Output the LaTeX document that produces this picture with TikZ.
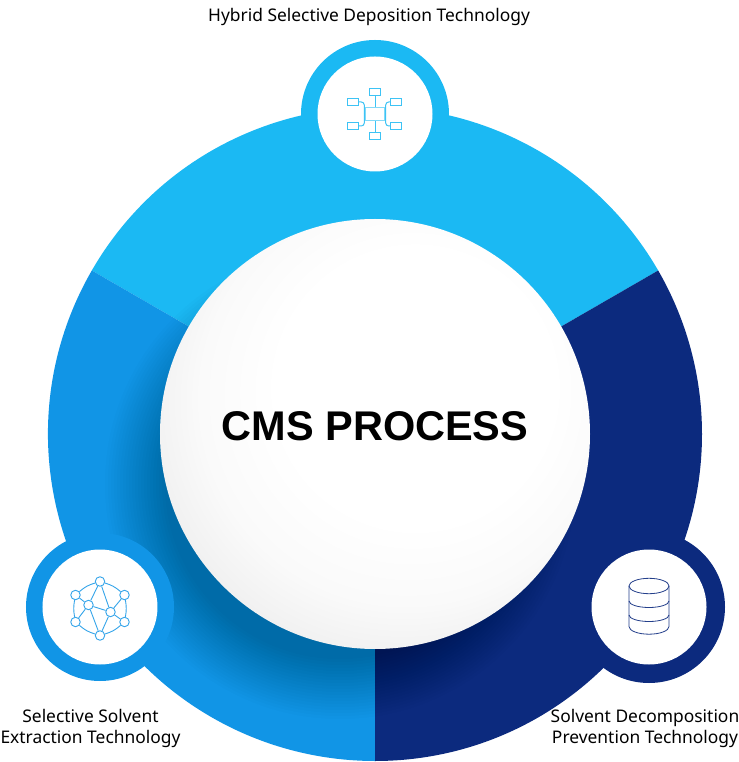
\documentclass[tikz,border=0pt]{standalone}
\usepackage{fontspec}
\setmainfont{Noto Sans}
\newfontfamily\titlefont{Liberation Sans}
\usetikzlibrary{positioning}
\definecolor{topblue}{HTML}{1BB9F3}
\definecolor{midblue}{HTML}{1195E6}
\definecolor{navyblue}{HTML}{0C2A7E}
\pgfdeclareradialshading{ballwhite}{\pgfpoint{7bp}{8bp}}{
  color(0bp)=(white); color(16bp)=(white); color(24bp)=(black!2);
  color(30bp)=(black!6); color(34bp)=(black!10); color(36bp)=(black!13); color(50bp)=(black!15)}
\tikzset{
  ringdisc/.style={circle, inner sep=0pt, minimum size=148pt},
  holedisc/.style={circle, fill=white, inner sep=0pt, minimum size=115pt},
  netdot/.style={circle, draw=midblue!85!white, fill=white, line width=.9pt, inner sep=0pt, minimum size=9.5pt},
  netline/.style={draw=midblue!85!white, line width=.9pt},
  treebox/.style={rectangle, draw=topblue!85!white, fill=white, line width=1pt, inner sep=0pt, minimum width=10.5pt, minimum height=6.5pt},
  treeline/.style={draw=topblue!85!white, line width=1pt, rounded corners=3pt},
  dbline/.style={draw=navyblue!90!white, line width=.8pt},
  caption/.style={align=center, font=\fontsize{17.4}{21}\selectfont},
}
\begin{document}
\begin{tikzpicture}[x=1pt, y=1pt]
  \useasboundingbox (-375,-328) rectangle (363,434);
  % Three sectors of the big disc
  \fill[topblue] (0,0) -- (150:327) arc[start angle=150, end angle=30, radius=327] -- cycle;
  \fill[midblue] (0,0) -- (150:327) arc[start angle=150, end angle=270, radius=327] -- cycle;
  \fill[navyblue] (0,0) -- (270:327) arc[start angle=270, end angle=390, radius=327] -- cycle;

  % Soft shadow under the ball
  \begin{scope}
    \clip (0,0) circle (327);
    \foreach \r in {175,178,...,235} {
      \fill[black, opacity=.012] (-35,-50) circle (\r);
    }
  \end{scope}

  % Rings with their white holes
  \node[ringdisc, fill=topblue] (topring) at (0,320) {};
  \node[holedisc] (tophole) at (topring) {};
  \node[ringdisc, fill=midblue] (leftring) at (-275,-173) {};
  \node[holedisc] (lefthole) at (leftring) {};
  \node[ringdisc, minimum size=152pt, fill=navyblue] (rightring) at (274,-173) {};
  \node[holedisc] (righthole) at (rightring) {};

  % The ball
  \node[circle, inner sep=0pt, minimum size=430pt, shading=ballwhite] (ball) at (0,0) {};
  \node[font=\fontsize{41.5}{50}\titlefont\bfseries] (title) at (0,8) {CMS PROCESS};

  % Tree icon
  \node[rectangle, draw=topblue!55!white, fill=white, line width=1.4pt, inner sep=0pt, minimum width=20pt, minimum height=12.5pt] (hub) at (topring) {};
  \node[treebox] (boxn) at (0,342) {};
  \node[treebox] (boxs) at (0,298) {};
  \node[treebox] (boxnw) at (-22,332) {};
  \node[treebox] (boxsw) at (-22,308) {};
  \node[treebox] (boxne) at (21,332) {};
  \node[treebox] (boxse) at (21,308) {};
  \draw[treeline] (boxn) -- (hub);
  \draw[treeline] (boxs) -- (hub);
  \draw[treeline] (boxnw) -| (hub.west);
  \draw[treeline] (boxsw) -| (hub.west);
  \draw[treeline] (boxne) -| (hub.east);
  \draw[treeline] (boxse) -| (hub.east);

  % Network icon
  \begin{scope}[shift={(leftring)}]
    \node[netdot] (n1) at (0,25.5) {};
    \node[netdot] (n2) at (-24.5,12) {};
    \node[netdot] (n3) at (24.5,12) {};
    \node[netdot] (n4) at (-11.5,2) {};
    \node[netdot] (n5) at (10.5,-5) {};
    \node[netdot] (n6) at (-24.5,-15) {};
    \node[netdot] (n7) at (24.5,-15) {};
    \node[netdot] (n8) at (0,-28.5) {};
  \end{scope}
  \draw[netline] (n1) to[bend right=12] (n2);
  \draw[netline] (n1) to[bend left=12] (n3);
  \draw[netline] (n2) to[bend right=10] (n6);
  \draw[netline] (n3) to[bend left=10] (n7);
  \draw[netline] (n6) to[bend right=12] (n8);
  \draw[netline] (n7) to[bend left=12] (n8);
  \draw[netline] (n1) -- (n4);
  \draw[netline] (n1) -- (n5);
  \draw[netline] (n2) -- (n4);
  \draw[netline] (n3) -- (n5);
  \draw[netline] (n4) -- (n5);
  \draw[netline] (n4) -- (n6);
  \draw[netline] (n4) -- (n8);
  \draw[netline] (n5) -- (n7);
  \draw[netline] (n5) -- (n8);

  % Database icon
  \begin{scope}[shift={(righthole)}]
    \coordinate (dbtop) at (0,21);
    \draw[dbline] (dbtop) ellipse (20 and 7.7);
    \draw[dbline] (-20,21) -- (-20,-19.5) arc[start angle=180, end angle=360, x radius=20, y radius=7.7] -- (20,21);
    \draw[dbline] (-20,6) arc[start angle=180, end angle=360, x radius=20, y radius=6.5];
    \draw[dbline] (-20,-8) arc[start angle=180, end angle=360, x radius=20, y radius=6.5];
  \end{scope}

  % Captions
  \node[caption] (toplabel) at (-6,417.5) {Hybrid Selective Deposition Technology};
  \node[caption] (leftlabel) at (-284.5,-294) {Selective Solvent\\Extraction Technology};
  \node[caption] (rightlabel) at (270,-294) {Solvent Decomposition\\Prevention Technology};
\end{tikzpicture}
\end{document}
